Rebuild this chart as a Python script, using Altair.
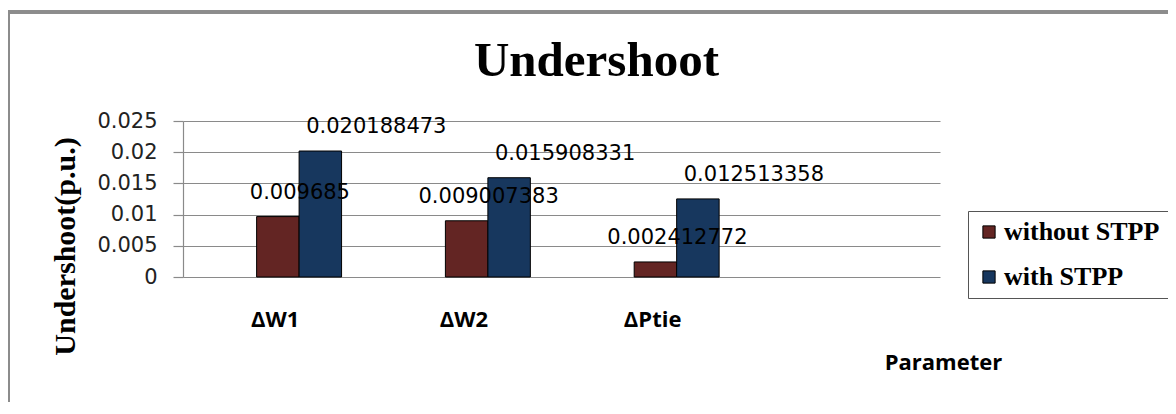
import altair as alt
import pandas as pd

categories = ["ΔW1", "ΔW2", "ΔPtie"]
series = ["without STPP", "with STPP"]
without_stpp = [0.009685, 0.009007383, 0.002412772]
with_stpp = [0.020188473, 0.015908331, 0.012513358]
y_ticks = [0, 0.005, 0.01, 0.015, 0.02, 0.025]
colors = ["#632523", "#17375E"]

rows = []
for c, a, b in zip(categories, without_stpp, with_stpp):
    rows.append({"cat": c, "series": series[0], "val": a, "label": str(a)})
    rows.append({"cat": c, "series": series[1], "val": b, "label": str(b)})
df = pd.DataFrame(rows)

W, H = 757, 156

xenc = alt.X("cat:N", sort=categories,
             scale=alt.Scale(paddingInner=0.55, paddingOuter=0.78, align=0.25),
             axis=alt.Axis(title="Parameter", labelAngle=0, domain=False, ticks=False,
                           labelFont="Open Sans", labelFontWeight="bold", labelFontSize=22,
                           labelColor="black", labelPadding=32, labelOffset=-24,
                           titleFont="Open Sans", titleFontWeight="bold", titleFontSize=22,
                           titleColor="black", titleX=760, titleY=85,
                           titleAlign="center", titleBaseline="middle"))
yenc = alt.Y("val:Q", scale=alt.Scale(domain=[0, 0.025], nice=False, zero=True),
             axis=alt.Axis(title="Undershoot(p.u.)", values=y_ticks, format="~g",
                           labelOverlap=False,
                           grid=True, gridColor="#8a8a8a", gridWidth=1.2,
                           domain=True, domainColor="#8a8a8a", domainWidth=1.2,
                           ticks=True, tickSize=10, tickColor="#8a8a8a", tickWidth=1.2,
                           labelFont="DejaVu Sans", labelFontSize=21, labelColor="#222",
                           labelPadding=16,
                           titleFont="Liberation Serif", titleFontWeight="bold",
                           titleFontSize=30, titleColor="black",
                           titleX=-118, titleY=125, titleAlign="center",
                           titleBaseline="middle", titleAngle=270))
xoff = alt.XOffset("series:N", sort=series)

bars = alt.Chart(df).mark_bar(stroke="black", strokeWidth=1).encode(
    x=xenc, y=yenc, xOffset=xoff,
    color=alt.Color("series:N", sort=series,
                    scale=alt.Scale(domain=series, range=colors),
                    legend=alt.Legend(title=None, orient="none", legendX=785, legendY=90,
                                      labelFont="Liberation Serif", labelFontWeight="bold",
                                      labelFontSize=26, labelColor="black", labelOffset=2,
                                      symbolType="square", symbolSize=150,
                                      symbolStrokeColor="black", symbolStrokeWidth=1,
                                      rowPadding=19, padding=8,
                                      strokeColor="#555", fillColor="white",
                                      labelLimit=300)),
)

def label_layer(s, dx):
    return alt.Chart(df).transform_filter(alt.datum.series == s).mark_text(
        font="DejaVu Sans", fontSize=21, color="black", baseline="alphabetic",
        align="center", dx=dx, dy=-18,
    ).encode(x=xenc, y=yenc, xOffset=xoff, text="label:N")

frame = alt.Chart(df).mark_rect(fill=None, stroke="#8c8c8c", strokeWidth=3).encode(
    x=alt.value(-174.5), x2=alt.value(1010), y=alt.value(-109), y2=alt.value(400)
)

chart = alt.layer(frame, bars, label_layer(series[0], 22), label_layer(series[1], 56)).properties(
    width=W, height=H,
    background="white",
    title=alt.TitleParams("Undershoot", font="Liberation Serif", fontSize=49,
                          fontWeight="bold", color="black", dx=35, dy=49, offset=-65,
                          baseline="alphabetic"),
    autosize=alt.AutoSizeParams(type="none"),
    padding={"left": 175, "top": 113, "right": 228, "bottom": 125},
).configure_view(strokeWidth=0, stroke="transparent")

chart.save("out.html", embed_options={"renderer": "svg", "actions": False})
